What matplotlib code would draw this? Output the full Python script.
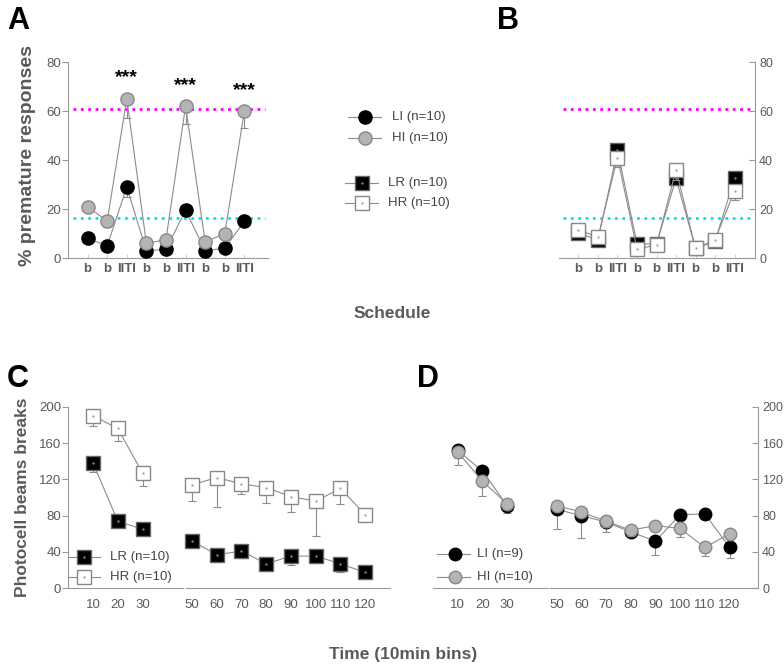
import numpy as np
import matplotlib.pyplot as plt
from matplotlib.lines import Line2D

plt.rcParams['font.family'] = ['Liberation Sans', 'DejaVu Sans']

# --- data ---
sched = ['b', 'b', 'IITI', 'b', 'b', 'IITI', 'b', 'b', 'IITI']
li_a = [8, 5, 29, 3, 3.5, 19.5, 3, 4, 15]
li_a_err = [1, 1, 4, 0.5, 0.5, 2, 0.5, 0.5, 1.5]
hi_a = [21, 15, 65, 6, 7.5, 62, 6.5, 10, 60]
hi_a_err = [2, 2.5, 8, 1, 1, 7.5, 1, 1.5, 7]

lr_b = [10.2, 7.3, 44, 5.8, 5.7, 32.5, 4, 6.8, 32.5]
lr_b_err = [1, 1, 7, 1, 1, 2, 0.5, 1, 8]
hr_b = [11.6, 8.5, 41, 3.7, 5.3, 36, 4, 7.3, 27.5]
hr_b_err = [1, 1, 3.7, 1, 1, 4, 0.5, 1, 4]

bins1 = [10, 20, 30]
bins2 = [50, 60, 70, 80, 90, 100, 110, 120]
lr_c = [138, 74, 65, 52, 37, 41, 27, 35.5, 35.5, 27, 17.5]
lr_c_err = [10, 3, 3, 5, 6, 8, 3, 10, 8, 9, 3]
hr_c = [190, 176, 127, 114, 122, 115, 111, 101, 96, 110, 81]
hr_c_err = [11, 14, 14, 18, 32, 11, 17, 17, 38, 17, 0]

li_d = [152, 129, 91, 87, 80, 73, 62, 52, 81, 82, 45]
li_d_err = [16, 4, 8, 22, 25, 11, 4, 15, 5, 4, 12]
hi_d = [150, 118, 93, 91, 84, 74, 64, 69, 66, 45, 60]
hi_d_err = [6, 16, 4, 5, 6, 6, 6, 6, 10, 9, 6]

GRAY = '#8c8c8c'
TXT = '#5a5a5a'
SPINE = '#9a9a9a'

fig = plt.figure(figsize=(7.84, 6.69), dpi=100, facecolor='white')

def style(ax, side='left'):
    for s in ['top', 'right', 'left', 'bottom']:
        ax.spines[s].set_visible(False)
    ax.spines[side].set_visible(True)
    ax.spines[side].set_color(SPINE)
    ax.spines['bottom'].set_visible(True)
    ax.spines['bottom'].set_color(SPINE)
    if side == 'left':
        ax.tick_params(axis='y', colors=TXT, labelsize=9.5, length=4, width=0.8,
                       direction='out', pad=1, left=True, labelleft=True,
                       right=False, labelright=False)
    else:
        ax.tick_params(axis='y', colors=TXT, labelsize=9, length=4, width=0.8,
                       direction='in', pad=3, left=False, labelleft=False,
                       right=True, labelright=True)
    ax.tick_params(axis='y', color=SPINE)
    ax.tick_params(axis='x', colors=TXT, labelsize=9.5, length=3, width=0.6, color='#c8c8c8')

def series(ax, x, y, err, marker, fc, ec, ms, z):
    ax.errorbar(x, y, yerr=[err, np.zeros(len(err))], fmt='none', ecolor=GRAY,
                elinewidth=0.8, capsize=3, capthick=0.8, zorder=z)
    ax.plot(x, y, color=GRAY, lw=0.8, zorder=z)
    ax.plot(x, y, ls='none', marker=marker, mfc=fc, mec=ec, ms=ms, mew=1, zorder=z + 0.5)
    if marker == 's':
        ax.plot(x, y, ls='none', marker='.', ms=1.2, color='#999999', zorder=z + 0.6)

# --- Panel A ---
axA = fig.add_axes([0.0867, 0.6143, 0.255, 0.293])
xa = np.arange(1, len(sched) + 1)
axA.axhline(61, xmin=0.025, xmax=0.985, color='#ff00ff', ls=':', lw=2, zorder=1)
axA.axhline(16.5, xmin=0.025, xmax=0.985, color='#00e5ee', ls=':', lw=2, zorder=1)
series(axA, xa, li_a, li_a_err, 'o', 'black', 'black', 9.5, 3)
series(axA, xa, hi_a, hi_a_err, 'o', '#b4b4b4', '#888888', 9.5, 4)
for i in [2, 5, 8]:
    axA.text(xa[i], hi_a[i] + 5, '***', ha='center', va='bottom', fontsize=14, fontweight='bold')
axA.set_xlim(0, 10.2)
axA.set_ylim(0, 80)
axA.set_yticks([0, 20, 40, 60, 80])
axA.set_xticks(xa)
axA.set_xticklabels(sched, fontweight='bold')
style(axA, 'left')
axA.tick_params(axis='x', direction='in')

# --- Panel B ---
axB = fig.add_axes([0.713, 0.6143, 0.25, 0.293])
axB.axhline(61, xmin=0.02, xmax=0.99, color='#ff00ff', ls=':', lw=2, zorder=1)
axB.axhline(16.5, xmin=0.02, xmax=0.99, color='#00e5ee', ls=':', lw=2, zorder=1)
series(axB, xa, lr_b, lr_b_err, 's', 'black', '#666666', 10.5, 3)
series(axB, xa, hr_b, hr_b_err, 's', 'white', '#888888', 10.5, 4)
axB.set_xlim(0, 10.05)
axB.set_ylim(0, 80)
axB.set_yticks([0, 20, 40, 60, 80])
axB.set_xticks(xa)
axB.set_xticklabels(sched, fontweight='bold')
style(axB, 'right')
axB.tick_params(axis='x', direction='in')

# --- Panel C ---
def time_axis(ax, side, xmax):
    ax.set_xlim(0, xmax)
    ax.set_ylim(0, 200)
    ax.set_yticks([0, 40, 80, 120, 160, 200])
    ax.set_xticks(bins1 + bins2)
    style(ax, side)
    ax.tick_params(axis='x', length=0, pad=8)
    ax.spines['bottom'].set_visible(False)
    ax.plot([0, 46.5], [0, 0], color=SPINE, lw=0.8, clip_on=False)
    ax.plot([47.5, xmax], [0, 0], color=SPINE, lw=0.8, clip_on=False)

axC = fig.add_axes([0.0871, 0.1206, 0.4103, 0.2715])
n1 = len(bins1)
series(axC, bins1, lr_c[:n1], lr_c_err[:n1], 's', 'black', '#666666', 10, 3)
series(axC, bins2, lr_c[n1:], lr_c_err[n1:], 's', 'black', '#666666', 10, 3)
series(axC, bins1, hr_c[:n1], hr_c_err[:n1], 's', 'white', '#888888', 10, 4)
series(axC, bins2, hr_c[n1:], hr_c_err[n1:], 's', 'white', '#888888', 10, 4)
time_axis(axC, 'left', 130)

# --- Panel D ---
axD = fig.add_axes([0.5523, 0.1206, 0.4145, 0.2715])
series(axD, bins1, li_d[:n1], li_d_err[:n1], 'o', 'black', 'black', 9, 3)
series(axD, bins2, li_d[n1:], li_d_err[n1:], 'o', 'black', 'black', 9, 3)
series(axD, bins1, hi_d[:n1], hi_d_err[:n1], 'o', '#b4b4b4', '#888888', 9, 4)
series(axD, bins2, hi_d[n1:], hi_d_err[n1:], 'o', '#b4b4b4', '#888888', 9, 4)
time_axis(axD, 'right', 131.5)

# --- overlay in pixel coordinates for labels and legends ---
ov = fig.add_axes([0, 0, 1, 1])
ov.set_xlim(0, 784)
ov.set_ylim(669, 0)
ov.axis('off')
ov.patch.set_alpha(0)

for lab, x, y in [('A', 7, 21), ('B', 497, 21), ('C', 7, 379), ('D', 417, 379)]:
    ov.text(x, y, lab, fontsize=22, fontweight='bold', ha='left', va='center')

ov.text(28, 156, '% premature responses', rotation=90, ha='center', va='center',
        fontsize=14, fontweight='bold', color=TXT)
ov.text(23, 497, 'Photocell beams breaks', rotation=90, ha='center', va='center',
        fontsize=12.5, fontweight='bold', color=TXT)
ov.text(392, 314, 'Schedule', ha='center', va='center', fontsize=12.5,
        fontweight='bold', color=TXT)
ov.text(403, 655, 'Time (10min bins)', ha='center', va='center', fontsize=12.5,
        fontweight='bold', color=TXT)

def leg(x0, x1, xm, y, marker, fc, ec, ms, label, xt, bold=False):
    ov.add_line(Line2D([x0, x1], [y, y], color=GRAY, lw=0.8))
    ov.add_line(Line2D([xm], [y], ls='none', marker=marker, mfc=fc, mec=ec, ms=ms, mew=1))
    if marker == 's':
        ov.add_line(Line2D([xm], [y], ls='none', marker='.', ms=1.2, color='#999999'))
    ov.text(xt, y, label, ha='left', va='center', fontsize=9.5, color='#444444',
            fontweight='bold' if bold else 'normal')

leg(348, 381, 365, 117, 'o', 'black', 'black', 9.5, 'LI (n=10)', 392)
leg(348, 381, 365, 138, 'o', '#b4b4b4', '#888888', 9.5, 'HI (n=10)', 392)
leg(345, 378, 362, 183, 's', 'black', '#666666', 10, 'LR (n=10)', 388)
leg(345, 378, 362, 203, 's', 'white', '#888888', 10, 'HR (n=10)', 388)

leg(68, 100, 84, 557, 's', 'black', '#666666', 10, 'LR (n=10)', 110)
leg(68, 100, 84, 577, 's', 'white', '#888888', 10, 'HR (n=10)', 110)

leg(437, 470, 455, 554, 'o', 'black', 'black', 9, 'LI (n=9)', 477)
leg(437, 470, 455, 577, 'o', '#b4b4b4', '#888888', 9, 'HI (n=10)', 477)

fig.savefig('out.png', dpi=100, facecolor='white')
